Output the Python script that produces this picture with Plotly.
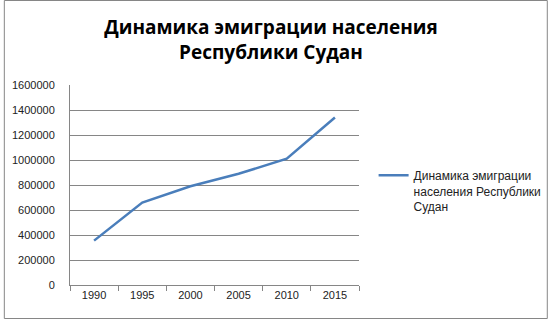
import plotly.graph_objects as go

years = ["1990", "1995", "2000", "2005", "2010", "2015"]
emigrants = [355000, 660000, 790000, 890000, 1010000, 1340000]
series_name = "Динамика эмиграции<br>населения Республики<br>Судан"
title_text = "Динамика эмиграции населения<br>Республики Судан"
y_ticks = [0, 200000, 400000, 600000, 800000, 1000000, 1200000, 1400000, 1600000]

W, H = 559, 319
ML, MR, MT, MB = 68, 194, 85, 34
PW, PH = W - ML - MR, H - MT - MB
GRID = "#868686"
FONT = "Liberation Sans"

fig = go.Figure()
fig.add_trace(go.Scatter(
    x=years, y=emigrants, mode="lines", name=series_name,
    line=dict(color="#4A7EBB", width=2.5),
    showlegend=True,
))

fig.update_layout(
    width=W, height=H, autosize=False,
    margin=dict(l=ML, r=MR, t=MT, b=MB, pad=0),
    paper_bgcolor="white", plot_bgcolor="white",
    font=dict(family=FONT, size=11, color="#222"),
    title=dict(
        text=title_text, x=271 / W, xanchor="center", xref="container",
        y=1 - 34 / H, yanchor="middle", yref="container",
        font=dict(family="Open Sans", size=19, color="black", weight="bold"),
    ),
    xaxis=dict(
        type="category", range=[-0.5, len(years) - 0.5],
        tickson="boundaries", ticks="outside", ticklen=5,
        tickcolor=GRID, showgrid=False, showline=True, linecolor=GRID,
        linewidth=1, tickfont=dict(size=11, color="#222"), zeroline=False,
    ),
    yaxis=dict(
        range=[0, 1600000], tickvals=y_ticks, ticktext=[str(v) for v in y_ticks],
        showgrid=True, gridcolor=GRID, gridwidth=1, showline=True,
        linecolor=GRID, linewidth=1, ticks="", ticklabelstandoff=12,
        zeroline=False, tickfont=dict(size=11, color="#222"),
    ),
    legend=dict(
        x=(380 - ML) / PW, xanchor="left", y=(285 - 161) / PH, yanchor="top",
        font=dict(family=FONT, size=12, color="#222"), valign="top",
        bgcolor="rgba(0,0,0,0)", borderwidth=0,
    ),
    shapes=[dict(
        type="rect", xref="paper", yref="paper",
        x0=(0.5 - ML) / PW, x1=(W - 0.5 - ML) / PW,
        y0=-(H - 0.5 - (MT + PH)) / PH, y1=(MT + PH - 0.5) / PH,
        line=dict(color=GRID, width=1), layer="below",
    )],
)

fig.write_html("out.html")
